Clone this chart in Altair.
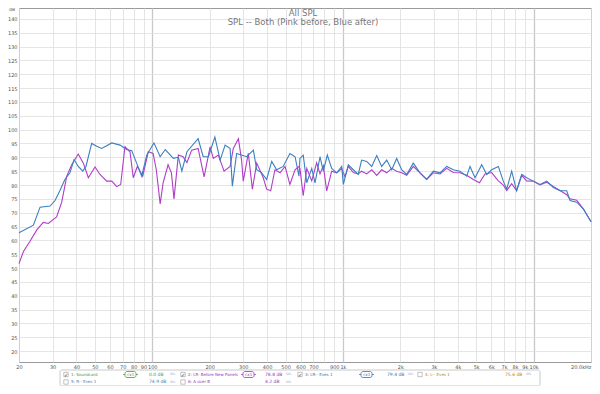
import altair as alt
import pandas as pd

# ---- data (Hz, dB SPL) ----
blue_freq = [20, 23.8, 25.8, 29.1, 30.9, 32.8, 34.8, 37.0, 38.9, 40.9, 43.2, 44.9, 48.1, 51.1, 54.3,
             61.3, 67.8, 73.4, 78, 82.8, 88, 93.5, 102, 110, 117, 129, 137, 143, 152, 174, 185, 197,
             213, 227, 241, 256, 263, 277, 313, 339, 353, 375, 398, 423, 449, 486, 527, 561, 588,
             595, 619, 646, 686, 714, 758, 789, 828, 873, 928, 985, 1005, 1067, 1134, 1203, 1253,
             1332, 1416, 1504, 1596, 1697, 1802, 1914, 2032, 2159, 2339, 2536, 2748, 2978, 3228,
             3500, 3793, 4111, 4457, 4640, 4929, 5344, 5676, 6026, 6532, 6934, 7228, 7674, 8147,
             8660, 9198, 9955, 10800, 11712, 12686, 13754, 14911, 15520, 16827, 18220, 20000]
blue_db = [62.8, 65.5, 72.0, 72.4, 74.4, 78.0, 82.0, 84.4, 89.2, 86.7, 85.0, 86.7, 95.0, 94.0, 93.2,
           95.2, 94.4, 92.8, 92.4, 87.9, 83.2, 90.8, 95.2, 90.2, 92.8, 89.6, 90.0, 85.0, 92.0, 96.7,
           90.2, 90.2, 97.3, 89.0, 94.4, 93.2, 79.6, 91.4, 90.2, 92.6, 85.5, 84.4, 82.0, 88.5, 85.5,
           86.7, 91.4, 90.2, 83.2,
           89.6, 90.8, 80.8, 86.0, 80.8, 90.2, 85.0, 90.8, 86.0, 84.4, 86.7, 80.2, 87.3, 85.5, 83.8,
           89.0, 88.5, 86.7, 90.6, 86.7, 89.0, 85.5, 89.6, 85.5, 83.8, 87.9, 84.4, 82.0, 85.0, 84.4,
           86.7, 85.5, 85.0, 83.2, 86.7, 82.6, 87.3, 83.8, 85.5, 86.7, 81.4, 78.5, 85.0, 77.9, 83.8,
           82.6, 81.4, 80.2, 81.4, 79.1, 77.9, 77.9, 74.4, 73.8, 71.4, 66.7]

purple_freq = [20, 21.1, 22.8, 24.8, 26.8, 28.5, 30.3, 31.5, 33.5, 35.6, 37.8, 40.9, 43.5, 46.2, 50.1,
               53.2, 57.7, 61.3, 65.1, 68.3, 71.9, 76.4, 79.5, 83.5, 89.1, 95.3, 101, 105, 110, 114,
               121, 126, 130, 137, 145, 152, 161, 174, 187, 201, 209, 222, 238, 256, 266, 283, 294,
               300, 319, 335, 353, 382, 398, 418, 440, 468, 497, 527, 561, 588,
               595, 619, 646, 686, 728, 758, 789, 822, 873, 928, 985, 1025, 1067, 1134, 1203, 1253,
               1332, 1416, 1504, 1596, 1697, 1802, 1914, 2032, 2159, 2339, 2536, 2748, 2978, 3228,
               3500, 3793, 4111, 4457, 4830, 5200, 5560, 6026, 6532, 6934, 7228, 7674, 8147, 8660,
               9198, 9955, 10800, 11712, 12686, 13754, 14911, 15520, 16827, 18220, 20000]
purple_db = [51.6, 56.0, 59.6, 63.8, 66.5, 66.1, 67.6, 68.5, 73.8, 83.2, 87.3, 91.2, 87.9, 82.6, 86.5,
             83.8, 81.4, 81.4, 79.4, 80.2, 93.8, 92.0, 82.6, 86.7, 83.2, 92.0, 91.4, 85.5, 73.2, 80.8,
             87.3, 84.4, 75.0, 90.8, 90.2, 88.1, 92.6, 93.2, 82.9, 93.8, 89.6, 90.8, 85.0, 86.7, 93.2,
             96.7, 89.0, 81.4, 91.4, 78.5, 87.9, 82.6, 78.5, 77.9, 85.5, 84.4, 86.7, 80.2, 85.5, 86.7,
             86.0, 76.1, 86.0, 81.5, 88.0, 84.0, 87.0, 77.9, 85.0, 84.4, 86.0, 83.0, 86.7, 84.5, 84.0,
             85.0, 84.0, 85.5, 83.5, 85.5, 84.4, 86.0, 85.0, 84.4, 83.5, 86.7, 84.4, 82.0, 84.4, 84.0,
             86.0, 84.5, 84.4, 83.5, 82.0, 80.8, 84.0, 84.5, 81.5, 80.0, 78.0, 80.5, 78.0, 83.5,
             81.5, 81.4, 80.0, 81.0, 79.5, 78.0, 76.5, 75.0, 74.5, 71.4, 66.7]

x_ticks = [20, 30, 40, 50, 60, 70, 80, 90, 100, 200, 300, 400, 500, 600, 700, 800, 900,
           1000, 2000, 3000, 4000, 5000, 6000, 7000, 8000, 9000, 10000, 20000]
y_ticks = list(range(20, 141, 5))

series_names = ["Before", "After"]
series_colors = ["#b03cc8", "#3a7fc0"]

title_lines = ["All SPL", "SPL -- Both (Pink before, Blue after)"]

legend_names = ["1: Soundcard", "2: LR- Before New Panels", "3: LR-- Eves 1",
                "4: L-- Eves 1", "5: R-- Eves 1", "6: A over B"]
legend_levels = ["0.0 dB", "78.8 dB", "79.4 dB", "75.6 dB", "74.9 dB", "4.2 dB"]
legend_checked = [True, True, True, False, False, False]
legend_colors = ["#3f9a3f", "#9a35c0", "#2f72b5", "#b5821e", "#3a7fb0", "#8a3ab8"]

# ---- build chart ----
W, H = 572, 354
FONT = "DejaVu Sans"

df = pd.concat([
    pd.DataFrame({"freq": purple_freq, "db": purple_db, "series": "Before", "ord": range(len(purple_freq))}),
    pd.DataFrame({"freq": blue_freq, "db": blue_db, "series": "After", "ord": range(len(blue_freq))}),
])

label_expr = ("datum.value == 800 ? '' : datum.value == 20000 ? '20.0kHz' : "
              "datum.value >= 1000 ? (datum.value / 1000) + 'k' : datum.value")
decade = "datum.value == 100 || datum.value == 1000 || datum.value == 10000"

x_enc = alt.X("freq:Q",
              scale=alt.Scale(type="log", domain=[20, 20000], nice=False),
              axis=alt.Axis(values=x_ticks, labelExpr=label_expr, title=None, domain=False,
                            ticks=False, labelFontSize=5, labelColor="#555", labelPadding=2,
                            labelFont=FONT, labelOverlap=False, labelFlush=False,
                            labelAlign={"condition": {"test": "datum.value == 20000", "value": "right"},
                                        "value": "center"},
                            gridColor={"condition": {"test": decade, "value": "#c8c8c8"}, "value": "#dedede"},
                            gridWidth={"condition": {"test": decade, "value": 1.3}, "value": 0.8}))
y_enc = alt.Y("db:Q",
              scale=alt.Scale(domain=[16.1, 143.9], nice=False, zero=False),
              axis=alt.Axis(values=y_ticks, title=None, domain=False, ticks=False,
                            labelFontSize=5, labelColor="#555", labelPadding=2, labelFont=FONT,
                            gridColor="#dedede", gridWidth=0.8))

lines = alt.Chart(df).mark_line(strokeWidth=1.1, interpolate="linear").encode(
    x=x_enc, y=y_enc,
    color=alt.Color("series:N", scale=alt.Scale(domain=series_names, range=series_colors), legend=None),
    order=alt.Order("ord:Q"),
    detail="series:N",
)

one = pd.DataFrame({"a": [0]})
layers = [lines]


def txt(text, x, y, color="#666", size=5, align="left", weight="normal"):
    return alt.Chart(one).mark_text(text=text, align=align, baseline="middle", fontSize=size,
                                    font=FONT, color=color, fontWeight=weight).encode(
        x=alt.value(x), y=alt.value(y))


# titles inside the plot
layers.append(txt(title_lines[0], W / 2 - 2, 5, color="#777", size=8.5, align="center"))
layers.append(txt(title_lines[1], W / 2 - 2, 14, color="#777", size=8.5, align="center"))
layers.append(txt("dB", -7, 2, color="#555", size=4.5, align="center"))

# legend box
layers.append(alt.Chart(one).mark_rect(fill="white", stroke="#bbbbbb", strokeWidth=0.8,
                                       cornerRadius=2).encode(
    x=alt.value(41), x2=alt.value(521), y=alt.value(362), y2=alt.value(378)))

col_x = [47, 164, 281, 401]
icon_x = [106, 224, 342, None]
level_x = [130, 246, 368, 486]
row_y = [366.5, 374]
slots = [(0, 0), (1, 0), (2, 0), (3, 0), (0, 1), (1, 1)]

for i, name in enumerate(legend_names):
    c, r = slots[i]
    cx, cy = col_x[c], row_y[r]
    col = legend_colors[i]
    layers.append(alt.Chart(one).mark_rect(fill="white", stroke="#999", strokeWidth=0.6).encode(
        x=alt.value(cx - 2.2), x2=alt.value(cx + 2.2), y=alt.value(cy - 2.2), y2=alt.value(cy + 2.2)))
    if legend_checked[i]:
        layers.append(txt("✓", cx, cy, color="#333", size=5, align="center"))
    layers.append(txt(name, cx + 5, cy, color=col, size=4))
    if legend_checked[i] and icon_x[c] is not None:
        ix = icon_x[c]
        layers.append(alt.Chart(one).mark_rule(stroke=col, strokeWidth=0.7).encode(
            x=alt.value(ix - 2), x2=alt.value(ix + 13), y=alt.value(cy)))
        layers.append(alt.Chart(one).mark_rect(fill="white", stroke=col, strokeWidth=0.8,
                                               cornerRadius=2).encode(
            x=alt.value(ix), x2=alt.value(ix + 11), y=alt.value(cy - 3), y2=alt.value(cy + 3)))
        layers.append(txt("√x1", ix + 5.5, cy, color=col, size=4, align="center"))
    layers.append(txt(legend_levels[i], level_x[c], cy, color=col, size=4.5))
    layers.append(txt("SPL", level_x[c] + 21, cy - 0.5, color="#8aa8d8", size=3))

chart = alt.layer(*layers).properties(
    width=W, height=H,
    autosize=alt.AutoSizeParams(type="none"),
    padding={"left": 11, "top": 0, "right": 1, "bottom": 24},
    background="white",
).configure_view(stroke="#9a9a9a", strokeWidth=1)

chart.save("out.html", embed_options={"renderer": "svg", "actions": False})
